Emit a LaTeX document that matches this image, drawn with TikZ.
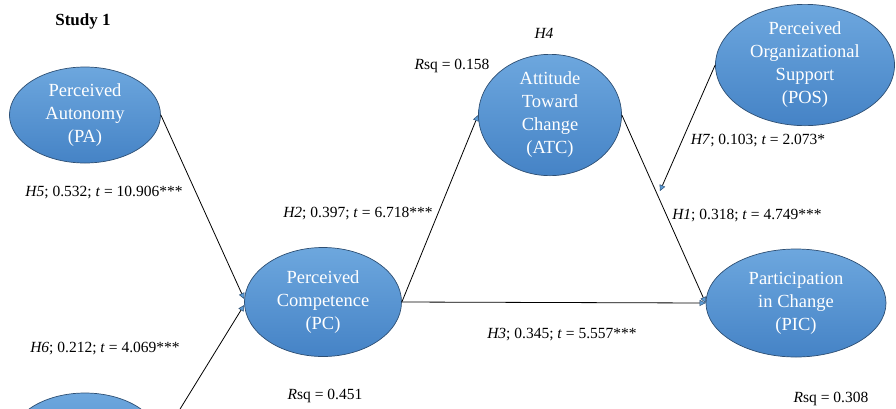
\documentclass[tikz,border=0pt]{standalone}
\usepackage{fontspec}
\setmainfont{Liberation Serif}
\usetikzlibrary{shapes.geometric,arrows.meta}
\definecolor{elltop}{HTML}{6DA7DE}
\definecolor{ellbot}{HTML}{4583C6}
\definecolor{elledge}{HTML}{2E4F73}
\definecolor{headfill}{HTML}{5B9BD5}
\tikzset{
  ell/.style={ellipse, draw=elledge, line width=0.7pt, top color=elltop, bottom color=ellbot,
    text=white, align=center, inner sep=0pt, font=\fontsize{18.5}{23}\selectfont},
  lbl/.style={inner sep=0pt, font=\fontsize{15.5}{18}\selectfont},
  arr/.style={draw=black, line width=0.8pt,
    -{Triangle[length=6pt, width=6pt, fill=headfill, color=elledge, line width=0.5pt]}}
}
\begin{document}
\begin{tikzpicture}[x=1pt,y=-1pt]
\useasboundingbox (0,0) rectangle (896,408);
\clip (0,0) rectangle (896,408);
\node[ell, minimum width=151, minimum height=96] (pa) at (85,115) {Perceived\\Autonomy\\(PA)};
\node[ell, minimum width=157, minimum height=109] (pc) at (323,302) {Perceived\\Competence\\(PC)};
\node[ell, minimum width=143, minimum height=97] (atc) at (550,115) {Attitude\\Toward\\Change\\(ATC)};
\node[ell, minimum width=179, minimum height=95] (pos) at (805,65) {Perceived\\Organizational\\Support\\(POS)};
\node[ell, minimum width=180, minimum height=108] (pic) at (796,303) {Participation\\in Change\\(PIC)};
\node[ell, minimum width=150, minimum height=96] (pr) at (85,441) {};
\coordinate (tip) at (660,191);

\draw[arr] (pa.east) -- ([yshift=3pt]pc.west);
\draw[arr] (pr.east) -- ([yshift=-3pt]pc.west);
\draw[arr] (pc.east) -- (atc.west);
\draw[arr] (atc.east) -- (pic.west);
\draw[arr] (pc.east) -- (pic.west);
\draw[arr] (pos.west) -- (tip);

\node[inner sep=0pt, font=\fontsize{17}{20}\selectfont\bfseries] (study) at (83,21) {Study 1};
\node[lbl] (h4) at (544,33) {\textit{H4}};
\node[lbl] (r1) at (452,66) {\textit{R}sq = 0.158};
\node[lbl] (h7) at (758,141) {\textit{H7}; 0.103; \textit{t} = 2.073*};
\node[lbl] (h1) at (747,216) {\textit{H1}; 0.318; \textit{t} = 4.749***};
\node[lbl] (h2) at (358,214) {\textit{H2}; 0.397; \textit{t} = 6.718***};
\node[lbl] (h5) at (104,193) {\textit{H5}; 0.532; \textit{t} = 10.906***};
\node[lbl] (h6) at (105,349) {\textit{H6}; 0.212; \textit{t} = 4.069***};
\node[lbl] (h3) at (562,335) {\textit{H3}; 0.345; \textit{t} = 5.557***};
\node[lbl] (r2) at (325,396) {\textit{R}sq = 0.451};
\node[lbl] (r3) at (831,399) {\textit{R}sq = 0.308};
\end{tikzpicture}
\end{document}
